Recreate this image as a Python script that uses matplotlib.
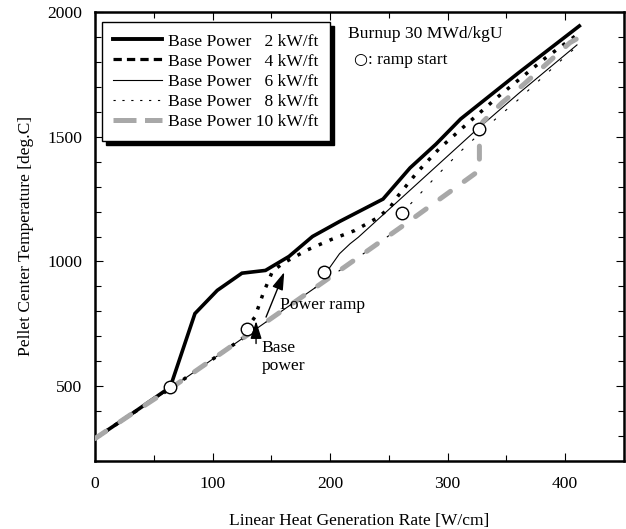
import matplotlib
matplotlib.use("Agg")
import matplotlib.pyplot as plt
from matplotlib.lines import Line2D
from matplotlib.patches import Rectangle
from matplotlib.transforms import IdentityTransform
from matplotlib.ticker import MultipleLocator

plt.rcParams['font.family'] = ['Liberation Serif', 'DejaVu Sans']
plt.rcParams['font.size'] = 12.6

# series: base power ramp curves (x in W/cm, y in deg.C)
p2_x = [0, 30, 64, 85, 104, 125, 145, 165, 185, 208, 245, 268, 290, 311, 360, 412]
p2_y = [290, 385, 496, 791, 884, 953, 964, 1020, 1100, 1160, 1250, 1375, 1470, 1571, 1755, 1944]

p4_x = [0, 30, 64, 129, 129, 136, 143, 151, 160, 181, 201, 221, 241, 251, 258, 274, 293, 313, 343, 383, 411]
p4_y = [290, 385, 490, 703, 731, 777, 871, 961, 993, 1047, 1088, 1124, 1177, 1217, 1264, 1357, 1453, 1537, 1661, 1815, 1912]

p6_x = [0, 30, 64, 129, 195, 195, 199, 208, 217, 224, 322, 360, 410]
p6_y = [290, 385, 490, 703, 920, 957, 971, 1031, 1071, 1097, 1517, 1672, 1868]

p8_x = [0, 30, 64, 129, 195, 261, 261, 272, 290, 310, 339, 359, 379, 399, 410]
p8_y = [290, 385, 490, 703, 920, 1140, 1195, 1248, 1340, 1437, 1564, 1644, 1731, 1817, 1862]

p10_x = [0, 30, 64, 129, 195, 261, 327, 327, 330, 346, 365, 386, 404, 413]
p10_y = [290, 385, 490, 703, 920, 1140, 1365, 1531, 1560, 1635, 1711, 1800, 1877, 1901]

# ramp start points
ramp_x = [64, 129, 195, 261, 327]
ramp_y = [496, 731, 957, 1195, 1531]

labels = ['Base Power   2 kW/ft', 'Base Power   4 kW/ft', 'Base Power   6 kW/ft',
          'Base Power   8 kW/ft', 'Base Power 10 kW/ft']

GRAY = '#a8a8a8'

fig = plt.figure(figsize=(6.26, 5.29), dpi=100)
ax = fig.add_axes([95 / 626, 68 / 529, 529 / 626, 449 / 529])

ax.plot(p2_x, p2_y, color='black', lw=2.6, solid_joinstyle='miter', zorder=2)
ax.plot(p4_x, p4_y, color='black', lw=2.5, dashes=(1, 2.4), zorder=2.1)
ax.plot(p6_x, p6_y, color='black', lw=0.8, zorder=2.2)
ax.plot(p8_x, p8_y, color='black', lw=0.8, dashes=(2.3, 11), zorder=2.3)
ax.plot(p10_x, p10_y, color=GRAY, lw=3.6, dashes=(2.6, 3.4),
        dash_capstyle='round', zorder=3)
ax.plot(ramp_x, ramp_y, 'o', ms=9, mfc='white', mec='black', mew=1, zorder=4)

ax.set_xlim(0, 450)
ax.set_ylim(200, 2000)
ax.xaxis.set_major_locator(MultipleLocator(100))
ax.xaxis.set_minor_locator(MultipleLocator(50))
ax.yaxis.set_major_locator(MultipleLocator(500))
ax.yaxis.set_minor_locator(MultipleLocator(100))
ax.tick_params(which='both', direction='in', top=True, right=True, width=0.8)
ax.tick_params(which='major', length=6)
ax.tick_params(which='minor', length=4)
ax.tick_params(axis='x', which='major', pad=11)
ax.tick_params(axis='y', which='major', pad=9)
for s in ax.spines.values():
    s.set_linewidth(1.8)

ax.set_xlabel('Linear Heat Generation Rate [W/cm]', labelpad=15)
ax.set_ylabel('Pellet Center Temperature [deg.C]', labelpad=10)

# annotations
arrow = dict(arrowstyle='-|>,head_length=0.85,head_width=0.27', color='black',
             lw=1, shrinkA=0, shrinkB=0)
ax.annotate('', xy=(161, 957), xytext=(145.5, 777), arrowprops=arrow, zorder=5)
ax.annotate('', xy=(137, 761), xytext=(137, 671), arrowprops=arrow, zorder=5)
ax.text(157, 824, 'Power ramp', va='center', ha='left')
ax.text(142, 616, 'Base\npower', va='center', ha='left', linespacing=1.15)
ax.text(215, 1912, 'Burnup 30 MWd/kgU', va='center', ha='left')
ax.text(219.5, 1810, '○', va='center', ha='left', fontsize=11.5, family='DejaVu Sans')
ax.text(232.5, 1808, ': ramp start', va='center', ha='left')

handles = [
    Line2D([], [], color='black', lw=2.8),
    Line2D([], [], color='black', lw=2.3, dashes=(2.6, 1.6)),
    Line2D([], [], color='black', lw=0.8),
    Line2D([], [], color='black', lw=0.8, dashes=(2, 6)),
    Line2D([], [], color=GRAY, lw=3.6, dashes=(4.6, 1.7)),
]
leg = ax.legend(handles, labels, loc='upper left', bbox_to_anchor=(0.013, 0.978),
                borderaxespad=0, fancybox=False, framealpha=1, edgecolor='black',
                handlelength=2.8, handletextpad=0.35, borderpad=0.65,
                labelspacing=0.22, fontsize=12.6)
leg.get_frame().set_linewidth(1.0)
leg.set_zorder(6)

fig.canvas.draw()
bb = leg.get_frame().get_window_extent()
ax.add_artist(Rectangle((bb.x0 + 4, bb.y0 - 4), bb.width, bb.height,
                        transform=IdentityTransform(), color='black',
                        zorder=5.9, clip_on=False))

fig.savefig('out.png', dpi=100)
